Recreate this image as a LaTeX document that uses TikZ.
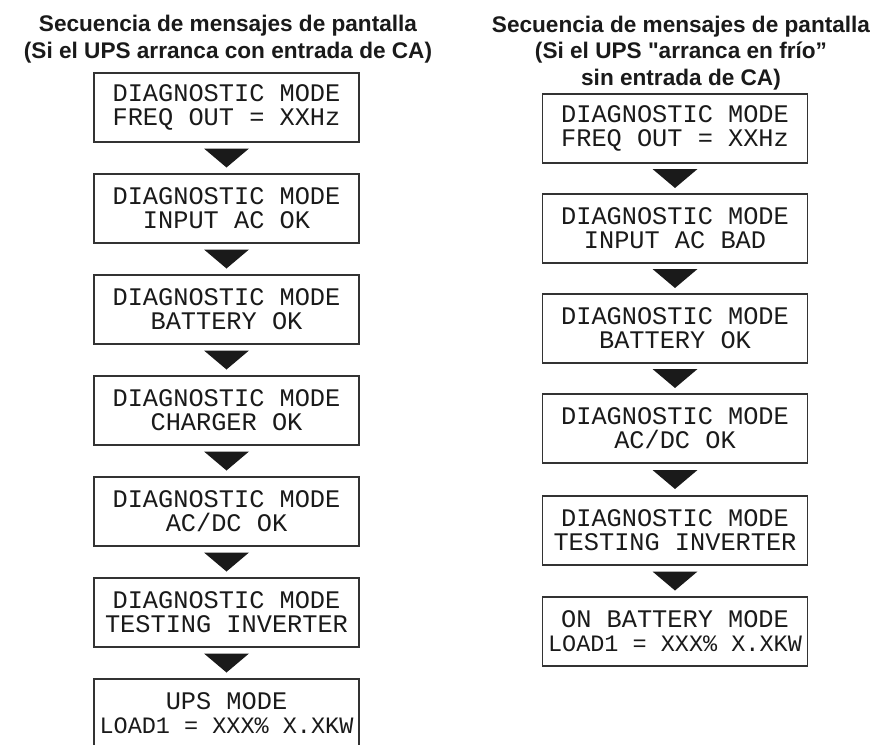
\documentclass[tikz,border=0pt]{standalone}
\usepackage{fontspec}
\setmainfont{Liberation Sans}
\setmonofont{Liberation Mono}
\newfontfamily\rawquote{Liberation Sans}
\usepackage{tikz}
\usetikzlibrary{calc,positioning}
\definecolor{Ink}{HTML}{1A1A1A}
\definecolor{Frame}{HTML}{333333}

\tikzset{
  heading/.style={align=center,text=Ink,font=\bfseries\fontsize{22.6}{26.5}\selectfont},
  lcd/.style={draw=Frame,line width=1.6pt,fill=white,text=Ink,minimum width=265pt,minimum height=69pt,
    inner sep=0pt,align=center,font=\ttfamily\fontsize{25.3}{24}\selectfont},
  pointer/.style={fill=Ink,draw=none}
}

\begin{document}
\begin{tikzpicture}[x=1pt,y=-1pt]
\useasboundingbox[fill=white] (0,0) rectangle (880,744);
\clip (0,0) rectangle (880,744);
% titles (base = last line)
\node[heading,anchor=base] (tl) at (228,58) {Secuencia de mensajes de pantalla\\(Si el UPS arranca con entrada de CA)};
\node[heading,anchor=base] (tr) at (681,85) {Secuencia de mensajes de pantalla\\(Si el UPS {\rawquote\bfseries "}arranca en frío”\\sin entrada de CA)};
% left column: start with AC input
\node[lcd] (l1) at (226.5,107.5) {DIAGNOSTIC MODE\\FREQ OUT = XXHz};
\node[lcd] (l2) at (226.5,208.5) {DIAGNOSTIC MODE\\INPUT AC OK};
\node[lcd] (l3) at (226.5,309.5) {DIAGNOSTIC MODE\\BATTERY OK};
\node[lcd] (l4) at (226.5,410.5) {DIAGNOSTIC MODE\\CHARGER OK};
\node[lcd] (l5) at (226.5,511.5) {DIAGNOSTIC MODE\\AC/DC OK};
\node[lcd] (l6) at (226.5,612.5) {DIAGNOSTIC MODE\\TESTING INVERTER};
\node[lcd] (l7) at (226.5,713.5) {UPS MODE\\{\fontsize{23.5}{24}\selectfont LOAD1 = XXX\% X.XKW}};
% right column: cold start
\node[lcd] (r1) at (675,128.5) {DIAGNOSTIC MODE\\FREQ OUT = XXHz};
\node[lcd] (r2) at (675,228.5) {DIAGNOSTIC MODE\\INPUT AC BAD};
\node[lcd] (r3) at (675,328.5) {DIAGNOSTIC MODE\\BATTERY OK};
\node[lcd] (r4) at (675,428.5) {DIAGNOSTIC MODE\\AC/DC OK};
\node[lcd] (r5) at (675,530.5) {DIAGNOSTIC MODE\\TESTING INVERTER};
\node[lcd] (r6) at (675,631.5) {ON BATTERY MODE\\{\fontsize{23.5}{24}\selectfont LOAD1 = XXX\% X.XKW}};
% triangles between the boxes
\foreach \a/\b in {l1/l2,l2/l3,l3/l4,l4/l5,l5/l6,l6/l7,r1/r2,r2/r3,r3/r4,r4/r5,r5/r6}{
  \coordinate (m) at ($(\a.south)!.5!(\b.north)$);
  \fill[pointer] ($(m)+(-22.5,-9.5)$) -- ++(45,0) -- ++(-22.5,19) -- cycle;
}
\end{tikzpicture}
\end{document}
